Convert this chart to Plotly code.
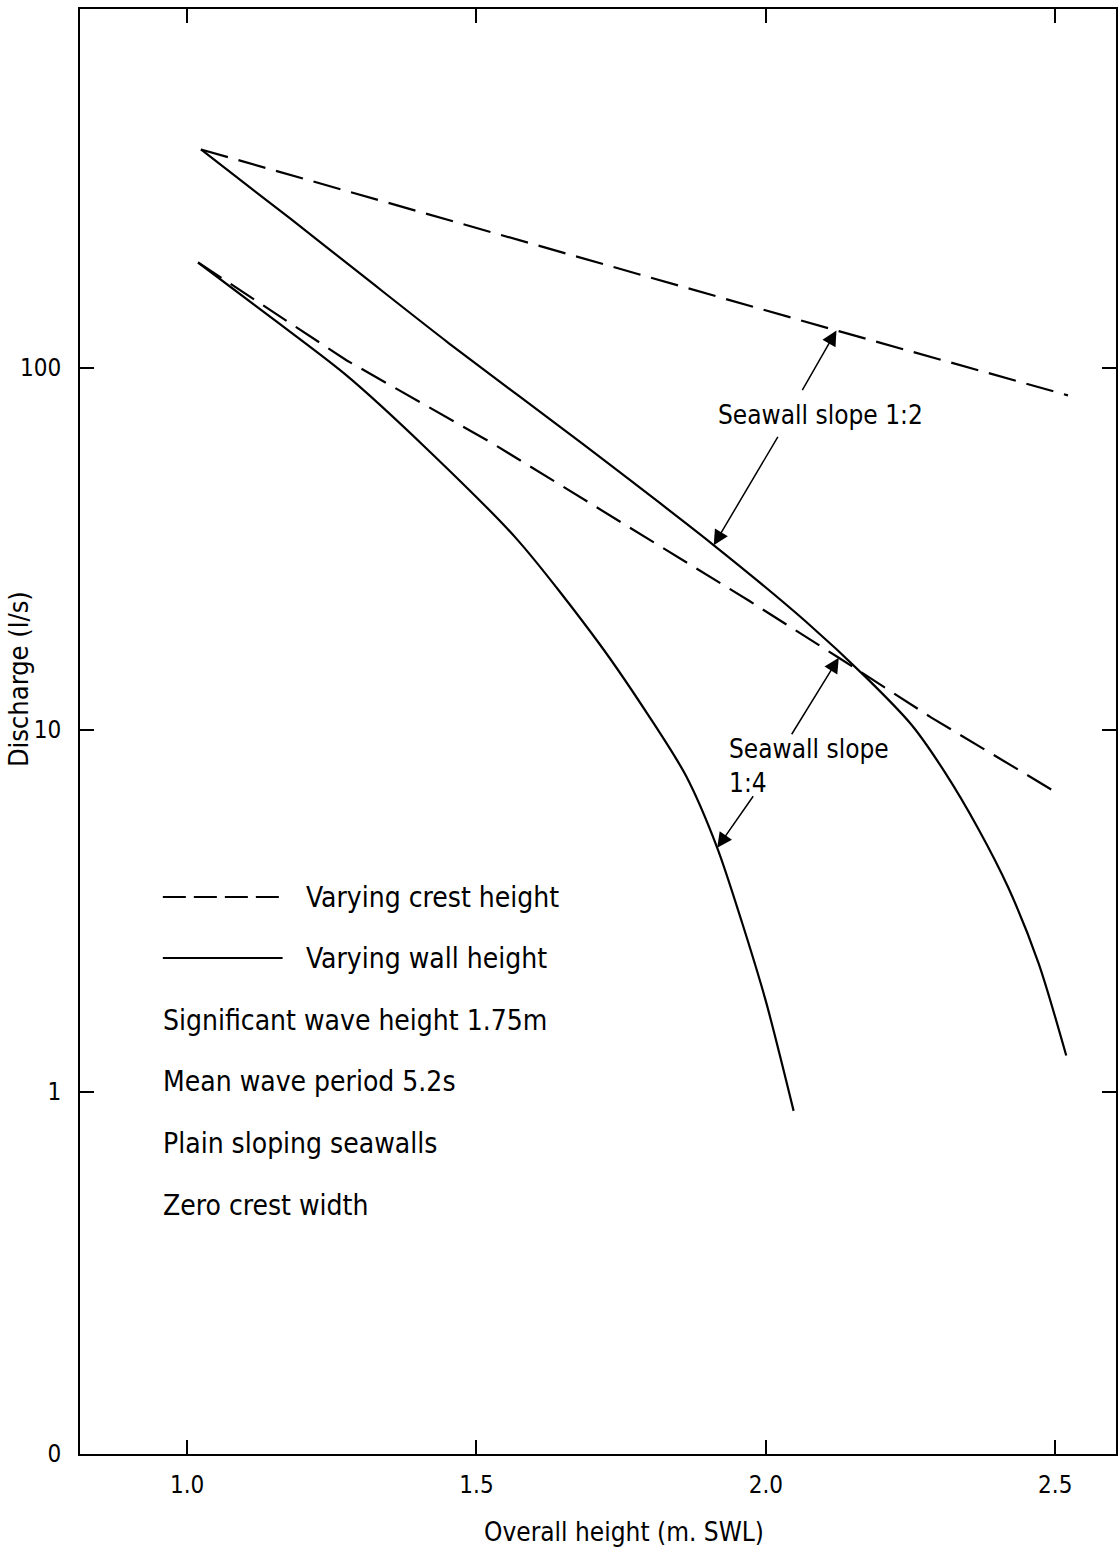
import numpy as np
import plotly.graph_objects as go

# ---------------- data ----------------
# Seawall slope 1:2, varying crest height (dashed)
crest_12_x = [1.024, 1.534, 2.126, 2.522]
crest_12_y = [400, 234, 126, 83.8]

# Seawall slope 1:2, varying wall height (solid)
wall_12_x = [1.024, 1.178, 1.303, 1.453, 1.683, 1.907, 2.069, 2.174,
             2.252, 2.310, 2.367, 2.419, 2.471, 2.519]
wall_12_y = [400, 258, 179.6, 116.5, 61.6, 32.6, 19.9, 13.9,
             10.3, 7.60, 5.33, 3.66, 2.27, 1.26]

# Seawall slope 1:4, varying crest height (dashed)
crest_14_x = [1.019, 1.276, 1.528, 1.971, 2.126, 2.286, 2.497]
crest_14_y = [195, 104.6, 61.7, 22.7, 15.8, 10.8, 6.78]

# Seawall slope 1:4, varying wall height (solid)
wall_14_x = [1.019, 1.160, 1.276, 1.414, 1.569, 1.712, 1.798, 1.862,
             1.916, 1.959, 2.000, 2.048]
wall_14_y = [195, 132, 95.0, 59.7, 33.7, 17.3, 10.9, 7.46,
             4.72, 2.93, 1.78, 0.886]

x_tickvals = [1.0, 1.5, 2.0, 2.5]
x_ticktext = ["1.0", "1.5", "2.0", "2.5"]
y_tickvals = [0.1, 1, 10, 100]
y_ticktext = ["0", "1", "10", "100"]

notes = ["Significant wave height 1.75m", "Mean wave period 5.2s",
         "Plain sloping seawalls", "Zero crest width"]
legend_labels = ["Varying crest height", "Varying wall height"]

# ---------------- layout geometry ----------------
W, H = 1120, 1557
ML, MR, MT, MB = 80, 2, 9, 103
PW, PH = W - ML - MR, H - MT - MB
FONT = "DejaVu Sans Condensed, DejaVu Sans, sans-serif"


def px(xp):
    return (xp - ML) / PW


def py(yp):
    return (H - MB - yp) / PH


fig = go.Figure()
dash_style = "28px,11px"
for xs, ys, dash, shape in [(crest_12_x, crest_12_y, dash_style, "linear"),
                            (wall_12_x, wall_12_y, "solid", "spline"),
                            (crest_14_x, crest_14_y, dash_style, "linear"),
                            (wall_14_x, wall_14_y, "solid", "spline")]:
    fig.add_trace(go.Scatter(x=xs, y=ys, mode="lines", showlegend=False,
                             line=dict(color="black", width=2.2, dash=dash,
                                       shape=shape, smoothing=0.8)))

fig.update_layout(
    width=W, height=H,
    margin=dict(l=ML, r=MR, t=MT, b=MB),
    paper_bgcolor="white", plot_bgcolor="white",
    font=dict(family=FONT, color="black", size=22),
    xaxis=dict(range=[0.815, 2.605], tickvals=x_tickvals, ticktext=x_ticktext,
               ticks="inside", ticklen=14, tickwidth=2, tickcolor="black",
               showline=True, linewidth=2, linecolor="black", mirror="ticks",
               showgrid=False, zeroline=False, ticklabelstandoff=8,
               tickfont=dict(size=24, family=FONT)),
    yaxis=dict(type="log", range=[-1, 2.99], tickvals=y_tickvals, ticktext=y_ticktext,
               ticks="inside", ticklen=14, tickwidth=2, tickcolor="black",
               showline=True, linewidth=2, linecolor="black", mirror="ticks",
               showgrid=False, zeroline=False, ticklabelstandoff=12,
               tickfont=dict(size=24, family=FONT)),
)

# axis titles
fig.add_annotation(xref="paper", yref="paper", x=px(625), y=py(1532),
                   text="Overall height (m. SWL)", showarrow=False,
                   font=dict(size=26, family=FONT), xanchor="center", yanchor="middle")
fig.add_annotation(xref="paper", yref="paper", x=px(18), y=py(679),
                   text="Discharge (l/s)", showarrow=False, textangle=-90,
                   font=dict(size=27, family=FONT), xanchor="center", yanchor="middle")

# legend samples and notes
fig.add_shape(type="line", xref="paper", yref="paper", x0=px(163), x1=px(283),
              y0=py(897), y1=py(897), line=dict(color="black", width=2, dash="23px,8px"))
fig.add_shape(type="line", xref="paper", yref="paper", x0=px(163), x1=px(283),
              y0=py(958), y1=py(958), line=dict(color="black", width=2))
for lbl, yp in zip(legend_labels, [897, 958]):
    fig.add_annotation(xref="paper", yref="paper", x=px(304), y=py(yp), text=lbl,
                       showarrow=False, xanchor="left", yanchor="middle",
                       font=dict(size=28, family=FONT))
for note, yp in zip(notes, [1020, 1081, 1143, 1205]):
    fig.add_annotation(xref="paper", yref="paper", x=px(161), y=py(yp), text=note,
                       showarrow=False, xanchor="left", yanchor="middle",
                       font=dict(size=28, family=FONT))

# seawall labels
fig.add_annotation(xref="paper", yref="paper", x=px(822), y=py(415),
                   text="Seawall slope 1:2", showarrow=False,
                   xanchor="center", yanchor="middle", font=dict(size=26, family=FONT))
fig.add_annotation(xref="paper", yref="paper", x=px(728), y=py(766),
                   text="Seawall slope<br>1:4", showarrow=False, align="left",
                   xanchor="left", yanchor="middle", font=dict(size=26, family=FONT))


def on_curve(xs, ys, xv):
    return float(np.interp(xv, xs, np.log10(ys)))


arrows = [
    (crest_12_x, crest_12_y, 2.122, -35, 61),
    (wall_12_x, wall_12_y, 1.910, 65, -110),
    (crest_14_x, crest_14_y, 2.126, -48, 78),
    (wall_14_x, wall_14_y, 1.916, 37, -53),
]
for xs, ys, xv, ax, ay in arrows:
    fig.add_annotation(x=xv, y=on_curve(xs, ys, xv), xref="x", yref="y",
                       text="", showarrow=True, arrowhead=2, arrowsize=2.0,
                       arrowwidth=1.5, arrowcolor="black", ax=ax, ay=ay, standoff=0)

fig.write_html("out.html")
